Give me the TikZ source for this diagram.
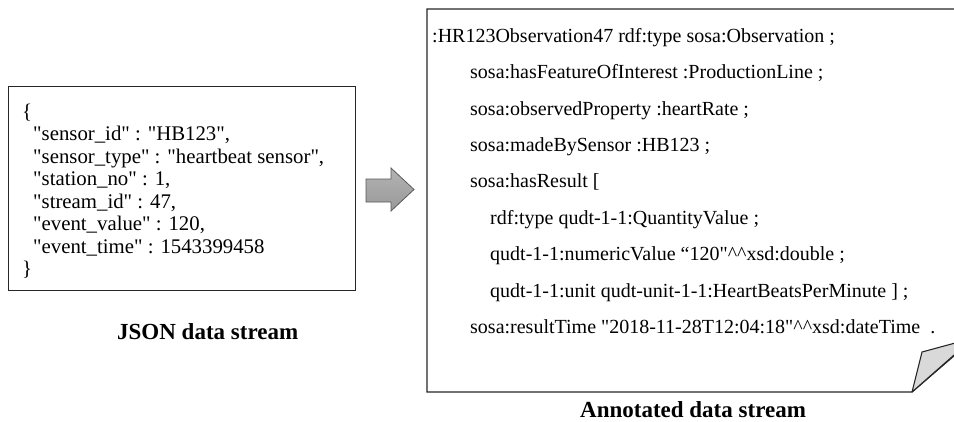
\documentclass[tikz,border=0pt]{standalone}
\usepackage{fontspec}
\setmainfont{Liberation Serif}[Ligatures=TeXOff]
\begin{document}
\begin{tikzpicture}[x=1pt,y=-1pt,
  frame/.style={draw=black!85, line width=1.3pt},
  txt/.style={anchor=base west, inner sep=0pt, font=\fontsize{20}{22}\selectfont},
  jsontxt/.style={txt, font=\fontsize{20.8}{23}\selectfont},
  captiontext/.style={anchor=base west, inner sep=0pt, font=\fontsize{23}{25}\selectfont\bfseries}]
\useasboundingbox (0,0) rectangle (954,421);
\clip (0,0) rectangle (954,421);

% JSON record
\node[frame, anchor=north west, minimum width=347pt, minimum height=204pt, inner sep=0pt] (json) at (8,86) {};
\node[jsontxt] (j1) at (22,118) {\{};
\node[jsontxt] (j2) at (33,140.5) {"sensor\_id" : "HB123",};
\node[jsontxt] (j3) at (33,163) {"sensor\_type" : "heartbeat sensor",};
\node[jsontxt] (j4) at (33,185.5) {"station\_no" : 1,};
\node[jsontxt] (j5) at (33,208) {"stream\_id" : 47,};
\node[jsontxt] (j6) at (33,230.5) {"event\_value" : 120,};
\node[jsontxt] (j7) at (33,253) {"event\_time" : 1543399458};
\node[jsontxt] (j8) at (22,275) {\}};
\node[captiontext] (jcap) at (117,339) {JSON data stream};

% transformation arrow
\draw[draw=black!65, line width=0.8pt, top color=gray!60, bottom color=gray!80]
  (366,179) -- (391,179) -- (391,168) -- (414,189.5) -- (391,211) -- (391,202) -- (366,202) -- cycle;

% annotated page with a curled corner
\coordinate (pTL) at (427,9);
\coordinate (pBL) at (427,392);
\coordinate (pBR) at (912,392);
\coordinate (pTR) at (970,9);
\draw[frame, line join=miter] (pTR) -- (pTL) -- (pBL) -- (pBR) -- (970,342);
\draw[draw=black!85, line width=1.1pt, fill=gray!30, line join=round]
  (pBR) -- (922,352) -- (970,339) -- (970,341) -- cycle;

\node[txt] (r1) at (432,42) {:HR123Observation47 rdf:type sosa:Observation ;};
\node[txt] (r2) at (470,78.5) {sosa:hasFeatureOfInterest :ProductionLine ;};
\node[txt] (r3) at (470,115) {sosa:observedProperty :heartRate ;};
\node[txt] (r4) at (470,151) {sosa:madeBySensor :HB123 ;};
\node[txt] (r5) at (470,187.5) {sosa:hasResult [};
\node[txt] (r6) at (490,224) {rdf:type qudt-1-1:QuantityValue ;};
\node[txt] (r7) at (490,260.5) {qudt-1-1:numericValue “120"\textasciicircum\textasciicircum xsd:double ;};
\node[txt] (r8) at (490,297) {qudt-1-1:unit qudt-unit-1-1:HeartBeatsPerMinute ] ;};
\node[txt] (r9) at (470,333) {sosa:resultTime "2018-11-28T12:04:18"\textasciicircum\textasciicircum xsd:dateTime~~.};
\node[captiontext] (rcap) at (580,417) {Annotated data stream};
\end{tikzpicture}
\end{document}
